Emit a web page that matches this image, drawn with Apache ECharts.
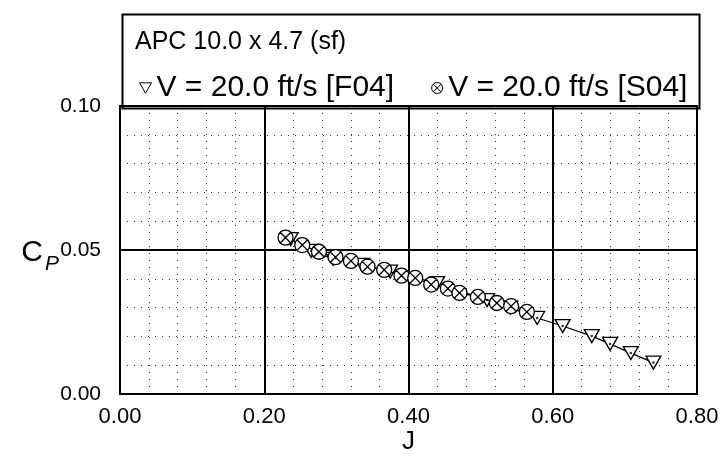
<!DOCTYPE html>
<html>
<head>
<meta charset="utf-8">
<script src="https://cdn.jsdelivr.net/npm/echarts@6/dist/echarts.min.js"></script>
<style>
html,body{margin:0;padding:0;background:#fff;}
#chart{width:721px;height:461px;}
</style>
</head>
<body>
<div id="chart"></div>
<script>
// ---- data ----
const chartTitle = 'APC 10.0 x 4.7 (sf)';
const nameF04 = 'V = 20.0 ft/s [F04]';
const nameS04 = 'V = 20.0 ft/s [S04]';

const J_F04  = [0.2366, 0.2651, 0.2956, 0.3358, 0.3745, 0.4397, 0.5090, 0.5410, 0.5784, 0.6137, 0.6541, 0.6795, 0.7082, 0.7396];
const CP_F04 = [0.0538, 0.0497, 0.0469, 0.0448, 0.0425, 0.0385, 0.0326, 0.0300, 0.0264, 0.0236, 0.0201, 0.0174, 0.0142, 0.0109];

const J_S04  = [0.2295, 0.2527, 0.2758, 0.2988, 0.3202, 0.3432, 0.3663, 0.3903, 0.4093, 0.4315, 0.4546, 0.4707, 0.4962, 0.5225, 0.5423, 0.5641];
const CP_S04 = [0.0543, 0.0517, 0.0494, 0.0475, 0.0462, 0.0442, 0.0431, 0.0411, 0.0403, 0.0380, 0.0366, 0.0351, 0.0337, 0.0316, 0.0305, 0.0285];

const xTicks = [0.00, 0.20, 0.40, 0.60, 0.80];
const yTicks = [0.00, 0.05, 0.10];

// ---- build ----
const zip = (a, b) => a.map((v, i) => [v, b[i]]);
const FONT = '"Liberation Sans", Arial, Helvetica, sans-serif';
const triPath = 'path://M0,0 L20,0 L10,17.32 Z';
const cxPath = 'path://M0,10 A10,10 0 1,1 20,10 A10,10 0 1,1 0,10 Z M2.93,2.93 L17.07,17.07 M17.07,2.93 L2.93,17.07';

const chart = echarts.init(document.getElementById('chart'), null, {renderer: 'canvas'});
chart.setOption({
  animation: false,
  backgroundColor: '#fff',
  textStyle: {fontFamily: FONT, color: '#000'},
  title: {
    text: chartTitle, left: 130, top: 25,
    textStyle: {fontFamily: FONT, fontSize: 25, fontWeight: 'normal', color: '#000'}
  },
  legend: {
    left: 134, top: 68, itemGap: 37, itemWidth: 12, itemHeight: 11,
    textStyle: {fontFamily: FONT, fontSize: 30, color: '#000'},
    data: [
      {name: nameF04, icon: triPath, itemStyle: {color: '#fff', borderColor: '#000', borderWidth: 1}},
      {name: nameS04, icon: cxPath, itemStyle: {color: '#fff', borderColor: '#000', borderWidth: 1}}
    ]
  },
  graphic: [{
    type: 'rect', left: 120, top: 12, silent: true,
    shape: {width: 577, height: 94},
    style: {fill: 'none', stroke: '#000', lineWidth: 2}
  }],
  grid: {
    left: 120, right: 24, top: 106, bottom: 67, containLabel: false, outerBoundsMode: 'none',
    show: true, borderColor: '#000', borderWidth: 2, backgroundColor: 'transparent'
  },
  xAxis: {
    type: 'value', min: xTicks[0], max: xTicks[xTicks.length - 1], interval: 0.2,
    name: 'J', nameLocation: 'middle', nameGap: 35, nameMoveOverlap: false,
    nameTextStyle: {fontFamily: FONT, fontSize: 26, color: '#000'},
    axisLine: {show: true, lineStyle: {color: '#000', width: 2}},
    axisTick: {show: false},
    axisLabel: {fontFamily: FONT, fontSize: 22, color: '#000', margin: 12, formatter: v => v.toFixed(2)},
    splitLine: {show: true, lineStyle: {color: '#000', width: 2}},
    minorTick: {show: false, splitNumber: 5},
    minorSplitLine: {show: true, lineStyle: {color: '#333', width: 1, type: [1, 6]}}
  },
  yAxis: {
    type: 'value', min: yTicks[0], max: yTicks[yTicks.length - 1], interval: 0.05,
    name: '{c|C}{p|P}', nameLocation: 'middle', nameGap: 61, nameRotate: 0, nameMoveOverlap: false,
    nameTextStyle: {
      fontFamily: FONT, color: '#000', padding: [6, 0, 0, 0],
      rich: {
        c: {fontFamily: FONT, fontSize: 30, color: '#000'},
        p: {fontFamily: FONT, fontSize: 21, fontStyle: 'italic', color: '#000', padding: [22, 0, 0, 2]}
      }
    },
    axisLine: {show: true, lineStyle: {color: '#000', width: 2}},
    axisTick: {show: false},
    axisLabel: {fontFamily: FONT, fontSize: 21, color: '#000', margin: 19, formatter: v => v.toFixed(2)},
    splitLine: {show: true, lineStyle: {color: '#000', width: 2}},
    minorTick: {show: false, splitNumber: 5},
    minorSplitLine: {show: true, lineStyle: {color: '#333', width: 1, type: [1, 6]}}
  },
  series: [
    {
      name: nameF04, type: 'line', data: zip(J_F04, CP_F04), z: 3,
      symbol: 'triangle', symbolRotate: 180, symbolSize: [15, 13],
      itemStyle: {color: '#fff', borderColor: '#000', borderWidth: 1.3},
      lineStyle: {color: '#000', width: 1.2}
    },
    {
      name: nameF04 + ' dot', type: 'scatter', data: zip(J_F04, CP_F04), z: 4, silent: true,
      symbol: 'circle', symbolSize: 2.5, itemStyle: {color: '#000'}
    },
    {
      name: nameS04, type: 'line', data: zip(J_S04, CP_S04), z: 5,
      symbol: cxPath, symbolSize: 15,
      itemStyle: {color: '#fff', borderColor: '#000', borderWidth: 1.3},
      lineStyle: {color: '#000', width: 1.2}
    }
  ]
});
</script>
</body>
</html>
